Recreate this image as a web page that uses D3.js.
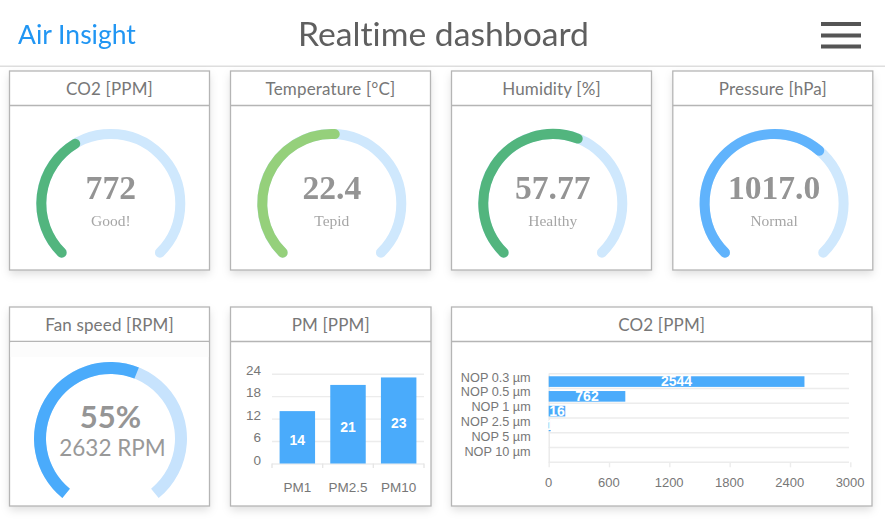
<!DOCTYPE html>
<html><head><meta charset="utf-8">
<style>
html,body{margin:0;padding:0;background:#fff;overflow:hidden}
svg{display:block;filter:blur(0.35px)}
text{font-family:Lato,"Open Sans",sans-serif;font-variant-ligatures:none}
.chart .ax text,.chart .lbl{font-family:"Liberation Sans",Arial,sans-serif}
.serif{font-family:"Liberation Serif","Times New Roman",serif !important}
</style>
<script src="https://cdn.jsdelivr.net/npm/d3@7"></script>
</head><body>
<svg id="c" width="885" height="531"></svg>
<script>
// ---- data ----
const gaugeTitles = ["CO2 [PPM]","Temperature [°C]","Humidity [%]","Pressure [hPa]"];
const gaugeValues = [772,22.4,57.77,1017.0];
const gaugeLabels = ["772","22.4","57.77","1017.0"];
const gaugeStatus = ["Good!","Tepid","Healthy","Normal"];
const gaugeMins = [0,0,0,900];
const gaugeMaxs = [2000,44,100,1080];
const gaugeColors = ["#52b57e","#95d07b","#52b57e","#60b3fc"];

const fanRpm = 2632, fanMax = 4560;
const fanPercent = "55%", fanLabel = "2632 RPM";

const pmCategories = ["PM1","PM2.5","PM10"];
const pmValues = [14,21,23];
const pmTicks = [0,6,12,18,24];

const nopCategories = ["NOP 0.3 µm","NOP 0.5 µm","NOP 1 µm","NOP 2.5 µm","NOP 5 µm","NOP 10 µm"];
const nopValues = [2544,762,165,20,0,0];
const nopLabels = ["2544","762","16","1","",""];
const nopTicks = [0,600,1200,1800,2400,3000];

// ---- layout ----
const svg = d3.select("#c");
const defs = svg.append("defs");
const f = defs.append("filter").attr("id","sh").attr("x","-10%").attr("y","-10%").attr("width","120%").attr("height","125%");
f.append("feDropShadow").attr("dx",0).attr("dy",4).attr("stdDeviation",4).attr("flood-color","#000").attr("flood-opacity",0.13);

// header
svg.append("text").attr("x",18).attr("y",43.5).attr("font-size",26.5).attr("fill","#2196f3").text("Air Insight");
svg.append("text").attr("x",443.5).attr("y",46).attr("text-anchor","middle").attr("font-size",33.7).attr("fill","#5f5f5f").text("Realtime dashboard");
svg.append("rect").attr("x",0).attr("y",65.5).attr("width",885).attr("height",1.5).attr("fill","#dedede");
svg.selectAll("rect.burger").data([22,33.5,44.5]).join("rect").attr("class","burger")
  .attr("x",821).attr("y",d=>d).attr("width",40).attr("height",4).attr("fill","#555");

function card(x,y,w,h,title){
  const g = svg.append("g");
  g.append("rect").attr("x",x).attr("y",y).attr("width",w).attr("height",h).attr("fill","#fff").attr("filter","url(#sh)");
  g.append("rect").attr("x",x).attr("y",y).attr("width",w).attr("height",h).attr("fill","#fff").attr("stroke","#b5b5b5").attr("stroke-width",1.3);
  g.append("line").attr("x1",x).attr("x2",x+w).attr("y1",y+34.5).attr("y2",y+34.5).attr("stroke","#b5b5b5").attr("stroke-width",1.3);
  g.append("text").attr("x",x+w/2).attr("y",y+24).attr("text-anchor","middle").attr("font-size",17).attr("letter-spacing",0.15).attr("fill","#777").text(title);
  return g;
}

const cardX = [9.5,230.5,451.5,672.8];
const sweep = (lo,hi,deg)=>d3.scaleLinear().domain([lo,hi]).range([-deg*Math.PI/180,deg*Math.PI/180]);
const arcPath = (r,a0,a1)=>{const p=d3.path();p.arc(0,0,r,a0-Math.PI/2,a1-Math.PI/2);return p.toString();};

gaugeTitles.forEach((t,i)=>{
  const g = card(cardX[i],71,200,199,t);
  const cx = cardX[i]+101.3, cy = 203.5;
  const a = sweep(gaugeMins[i],gaugeMaxs[i],135);
  const p = g.append("g").attr("transform",`translate(${cx},${cy})`);
  p.append("path").attr("d",arcPath(69.5,a.range()[0],a.range()[1])).attr("fill","none").attr("stroke","#cfe8fd").attr("stroke-width",10).attr("stroke-linecap","round");
  p.append("path").attr("d",arcPath(69.5,a.range()[0],a(gaugeValues[i]))).attr("fill","none").attr("stroke",gaugeColors[i]).attr("stroke-width",10).attr("stroke-linecap","round");
  p.append("text").attr("class","serif").attr("y",-4.5).attr("text-anchor","middle").attr("font-size",33.6).attr("font-weight","bold").attr("fill","#949494").text(gaugeLabels[i]);
  p.append("text").attr("class","serif").attr("y",22.5).attr("text-anchor","middle").attr("font-size",15.5).attr("fill","#a6a6a6").text(gaugeStatus[i]);
});

// fan gauge
{
  const g = card(9.5,307,200,199,"Fan speed [RPM]");
  g.append("rect").attr("x",10.5).attr("y",342).attr("width",198).attr("height",15).attr("fill","#fcfcfc");
  const cx = 110.5, cy = 438.5;
  const a = sweep(0,fanMax,141);
  const arc = d3.arc().innerRadius(64.5).outerRadius(76.5);
  const p = g.append("g").attr("transform",`translate(${cx},${cy})`);
  p.append("path").attr("d",arc({startAngle:a.range()[0],endAngle:a.range()[1]})).attr("fill","#c7e3fd");
  p.append("path").attr("d",arc({startAngle:a.range()[0],endAngle:a(fanRpm)})).attr("fill","#4aabfb");
  p.append("text").attr("y",-10.5).attr("text-anchor","middle").attr("font-size",31).attr("font-weight","bold").attr("fill","#959595").text(fanPercent);
  p.append("text").attr("x",2).attr("y",17.2).attr("text-anchor","middle").attr("font-size",22.5).attr("fill","#999").text(fanLabel);
}

function styleAxis(sel){
  sel.attr("class","ax");
  sel.select(".domain").attr("stroke","#e9e9e9").attr("stroke-width",1.4);
  sel.selectAll(".tick line").attr("stroke","#ececec").attr("stroke-width",1.4);
  sel.selectAll("text").attr("fill","#777");
}

// PM bars
{
  const g = card(230.5,307,200.5,199,"PM [PPM]").attr("class","chart");
  const x = d3.scaleBand().domain(pmCategories).range([272,424]).paddingInner(0.3).paddingOuter(0.15);
  const y = d3.scaleLinear().domain([0,24]).range([463.5,373.7]);
  const ya = g.append("g").attr("transform","translate(272,0)")
    .call(d3.axisLeft(y).tickValues(pmTicks).tickSize(-152).tickPadding(11));
  ya.select(".domain").remove();
  styleAxis(ya);
  ya.selectAll("text").attr("font-size",13.5).attr("dy","0.05em");
  const xa = g.append("g").attr("transform","translate(0,463.5)")
    .call(d3.axisBottom(x).tickSize(0).tickPadding(18.5));
  xa.select(".domain").remove();
  styleAxis(xa);
  xa.selectAll("text").attr("font-size",13.5);
  const xEdges = d3.scaleLinear().domain([0,pmCategories.length]).range([272,424]);
  g.append("g").selectAll("line").data(d3.range(pmCategories.length+1)).join("line")
    .attr("x1",d=>xEdges(d)).attr("x2",d=>xEdges(d)).attr("y1",463.5).attr("y2",468).attr("stroke","#e6e6e6").attr("stroke-width",1.4);
  g.append("g").selectAll("rect").data(pmValues).join("rect")
    .attr("x",(d,i)=>x(pmCategories[i])).attr("width",x.bandwidth())
    .attr("y",d=>y(d)).attr("height",d=>y(0)-y(d)).attr("fill","#4aabfb");
  g.append("g").selectAll("text").data(pmValues).join("text").attr("class","lbl")
    .attr("x",(d,i)=>x(pmCategories[i])+x.bandwidth()/2)
    .attr("y",d=>(y(d)+y(0))/2+8).attr("text-anchor","middle")
    .attr("font-size",14).attr("font-weight","bold").attr("fill","#fff").text(d=>d);
}

// NOP bars
{
  const g = card(451.5,307,420.5,199,"CO2 [PPM]").attr("class","chart");
  const x = d3.scaleLinear().domain([0,3000]).range([548.7,850.3]);
  const y = d3.scaleBand().domain(nopCategories).range([373.7,462.3]).paddingInner(0.28).paddingOuter(0.14);
  const edges = d3.scaleLinear().domain([0,nopCategories.length]).range([373.7,462.3]);
  g.append("g").selectAll("line").data(d3.range(nopCategories.length+1)).join("line")
    .attr("x1",548.7).attr("x2",849).attr("y1",d=>edges(d)).attr("y2",d=>edges(d)).attr("stroke","#ececec").attr("stroke-width",1.4);
  const xa = g.append("g").attr("transform","translate(0,462.3)")
    .call(d3.axisBottom(x).tickValues(nopTicks).tickFormat(d3.format("d")).tickSize(5).tickPadding(10.5));
  xa.select(".domain").remove();
  styleAxis(xa);
  xa.selectAll("text").attr("font-size",13).attr("dx",-0.7);
  const ya = g.append("g").attr("transform","translate(548.7,0)")
    .call(d3.axisLeft(y).tickSize(0).tickPadding(18));
  styleAxis(ya);
  ya.selectAll("text").attr("font-size",12.7).attr("dy","0.05em");
  g.append("g").selectAll("rect").data(nopValues).join("rect")
    .attr("x",x(0)).attr("y",(d,i)=>y(nopCategories[i])+0.5).attr("height",y.bandwidth())
    .attr("width",d=>x(d)-x(0)).attr("fill","#4aabfb");
  g.append("g").selectAll("text").data(nopValues).join("text").attr("class","lbl")
    .attr("x",d=>(x(d)+x(0))/2).attr("y",(d,i)=>y(nopCategories[i])+y.bandwidth()/2+5)
    .attr("text-anchor","middle").attr("font-size",14).attr("font-weight","bold").attr("fill","#fff").text((d,i)=>nopLabels[i]);
}
</script>
</body></html>
